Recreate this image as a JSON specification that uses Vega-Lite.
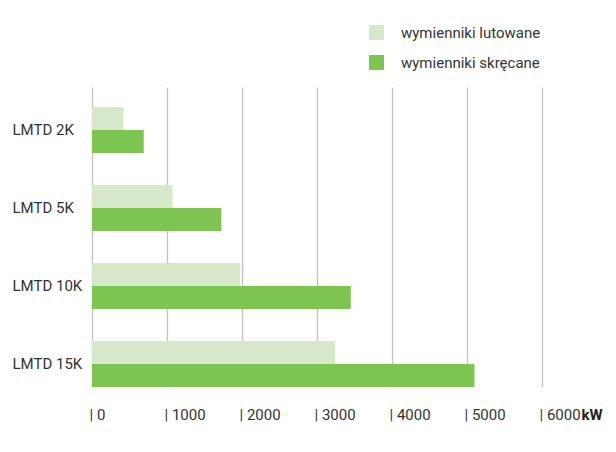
{
  "$schema": "https://vega.github.io/schema/vega-lite/v6.json",
  "width": 450,
  "height": 300,
  "autosize": {"type": "none"},
  "padding": {"left": 92, "top": 87, "right": 74, "bottom": 65},
  "background": "white",
  "config": {
    "view": {"stroke": null},
    "font": "Roboto",
    "axis": {"labelFont": "Roboto", "labelColor": "#333333", "labelFontSize": 15}
  },
  "data": {
    "values": [
      {"lmtd": "LMTD 2K", "typ": "wymienniki lutowane", "kw": 420},
      {"lmtd": "LMTD 2K", "typ": "wymienniki skręcane", "kw": 690},
      {"lmtd": "LMTD 5K", "typ": "wymienniki lutowane", "kw": 1075},
      {"lmtd": "LMTD 5K", "typ": "wymienniki skręcane", "kw": 1725},
      {"lmtd": "LMTD 10K", "typ": "wymienniki lutowane", "kw": 1975},
      {"lmtd": "LMTD 10K", "typ": "wymienniki skręcane", "kw": 3450},
      {"lmtd": "LMTD 15K", "typ": "wymienniki lutowane", "kw": 3240},
      {"lmtd": "LMTD 15K", "typ": "wymienniki skręcane", "kw": 5100}
    ]
  },
  "mark": {"type": "bar"},
  "encoding": {
    "y": {
      "field": "lmtd",
      "type": "nominal",
      "sort": ["LMTD 2K", "LMTD 5K", "LMTD 10K", "LMTD 15K"],
      "scale": {"paddingInner": 0.41, "paddingOuter": 0.128, "align": 1},
      "axis": {
        "title": null,
        "domain": false,
        "ticks": false,
        "grid": false,
        "labelAlign": "left",
        "labelPadding": 80,
        "labelBaseline": "middle"
      }
    },
    "yOffset": {
      "field": "typ",
      "type": "nominal",
      "sort": ["wymienniki lutowane", "wymienniki skręcane"],
      "scale": {"paddingInner": 0, "paddingOuter": 0}
    },
    "x": {
      "field": "kw",
      "type": "quantitative",
      "scale": {"domain": [0, 6000], "nice": false},
      "axis": {
        "values": [0, 1000, 2000, 3000, 4000, 5000, 6000],
        "format": "d",
        "labelExpr": "'| ' + datum.label",
        "labelAlign": "left",
        "labelOffset": -3,
        "labelPadding": 27,
        "labelFlush": false,
        "labelBaseline": "middle",
        "domain": false,
        "ticks": false,
        "grid": true,
        "gridColor": "#c2c2c2",
        "gridWidth": 1.3,
        "title": "kW",
        "titleFont": "Roboto",
        "titleFontWeight": "bold",
        "titleFontSize": 15,
        "titleColor": "#222222",
        "titleAnchor": "start",
        "titleAlign": "left",
        "titleBaseline": "middle",
        "titleX": 489,
        "titleY": 27
      }
    },
    "color": {
      "field": "typ",
      "type": "nominal",
      "sort": ["wymienniki lutowane", "wymienniki skręcane"],
      "scale": {"domain": ["wymienniki lutowane", "wymienniki skręcane"], "range": ["#d7e8ca", "#7ec451"]},
      "legend": {
        "title": null,
        "orient": "none",
        "legendX": 277,
        "legendY": -62,
        "padding": 0,
        "symbolType": "square",
        "symbolSize": 225,
        "symbolStrokeWidth": 0,
        "symbolOpacity": 1,
        "labelFont": "Roboto",
        "labelFontSize": 15,
        "labelColor": "#333333",
        "labelOffset": 17,
        "rowPadding": 14
      }
    }
  }
}
